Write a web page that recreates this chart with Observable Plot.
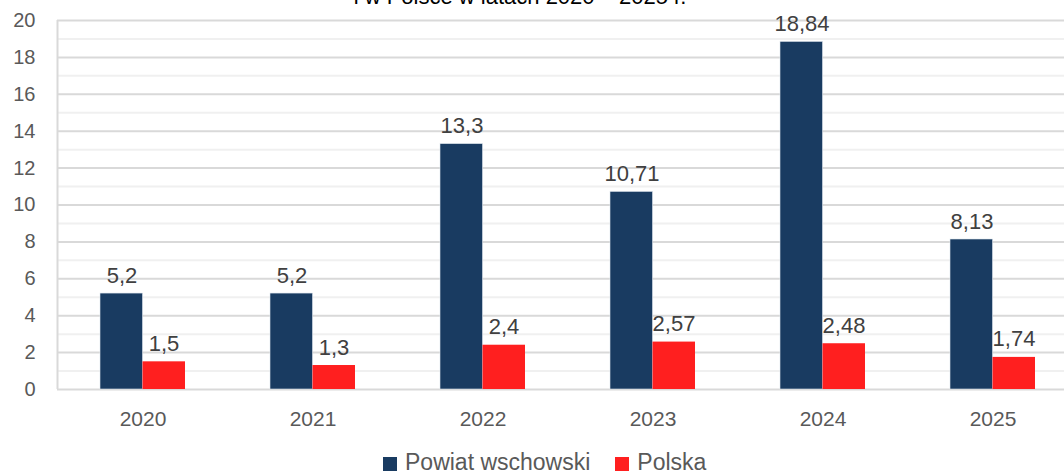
<!DOCTYPE html>
<html><head><meta charset="utf-8">
<script src="https://cdn.jsdelivr.net/npm/d3@7"></script>
<script src="https://cdn.jsdelivr.net/npm/@observablehq/plot@0.6"></script>
<style>
html,body{margin:0;padding:0;background:#fff;overflow:hidden;width:1064px;height:472px;}
#wrap{position:relative;width:1064px;height:472px;overflow:hidden;font-family:"Liberation Sans",Arial,sans-serif;}
#title{position:absolute;left:0;width:1040px;text-align:center;top:-14px;font-size:22px;line-height:22px;color:#000;}
#chart{position:absolute;left:0;top:0;width:1080px;}
#chart svg{max-width:none !important;}
#legend{position:absolute;top:452px;left:383px;display:flex;font-size:23px;color:#595959;line-height:20px;white-space:nowrap;}
#legend .it{display:flex;align-items:center;margin-right:25px;}
#legend span.sw{display:inline-block;width:14px;height:14px;margin-right:8px;margin-top:4px;}
</style>
</head><body><div id="wrap">
<div id="title">i w Polsce w latach 2020 – 2025 r.</div>
<div id="chart"></div>
<div id="legend"></div>
</div>
<script>
const years = ["2020","2021","2022","2023","2024","2025"];
const powiat = [5.2, 5.2, 13.3, 10.71, 18.84, 8.13];
const polska = [1.5, 1.3, 2.4, 2.57, 2.48, 1.74];
const seriesNames = ["Powiat wschowski","Polska"];
const seriesColors = ["#193b61","#ff1f1f"];
const yTicks = [0,2,4,6,8,10,12,14,16,18,20];
const minorTicks = [1,3,5,7,9,11,13,15,17,19];

const fmt = v => String(v).replace(".", ",");
const dP = years.map((y,i)=>({year:y, v:powiat[i]}));
const dL = years.map((y,i)=>({year:y, v:polska[i]}));

const font = "Liberation Sans, Arial, sans-serif";
const chart = Plot.plot({
  width: 1080, height: 440,
  marginLeft: 57, marginRight: 3, marginTop: 20, marginBottom: 51,
  style: {fontFamily: font, fontSize: "20px", color: "#595959", background: "transparent", overflow: "visible", maxWidth: "none"},
  x: {domain: years, type: "band", paddingInner: 0.5, paddingOuter: 0.25, label: null},
  y: {domain: [0, 20], label: null},
  marks: [
    Plot.ruleY(minorTicks, {stroke: "#f0f0f0", strokeWidth: 2}),
    Plot.ruleY(yTicks, {stroke: "#d9d9d9", strokeWidth: 2}),
    Plot.barY(dP, {x: "year", y: "v", fill: seriesColors[0], stroke: "#dfe6ee", strokeWidth: 0.6, insetRight: 42.5}),
    Plot.barY(dL, {x: "year", y: "v", fill: seriesColors[1], insetLeft: 42.5}),
    Plot.text(dP, {x: "year", y: "v", text: d => fmt(d.v), dx: -21, dy: -18, fill: "#404040", fontSize: 22}),
    Plot.text(dL, {x: "year", y: "v", text: d => fmt(d.v), dx: 21, dy: -18, fill: "#404040", fontSize: 22}),
    Plot.axisX({tickSize: 0, tickPadding: 22, fontSize: 21, fill: "#595959", label: null}),
    Plot.axisY({ticks: yTicks, tickSize: 0, tickPadding: 22, fontSize: 20, fill: "#595959", label: null, tickFormat: d => String(d)})
  ]
});
const svg = d3.select(chart);
svg.append("line").attr("x1", 57.5).attr("x2", 57.5).attr("y1", 20).attr("y2", 389).attr("stroke", "#d9d9d9").attr("stroke-width", 2);
document.getElementById("chart").appendChild(chart);

const leg = document.getElementById("legend");
seriesNames.forEach((n,i)=>{
  const s = document.createElement("div");
  s.className = "it";
  s.innerHTML = `<span class="sw" style="background:${seriesColors[i]}"></span>${n}`;
  leg.appendChild(s);
});
</script>
</body></html>
